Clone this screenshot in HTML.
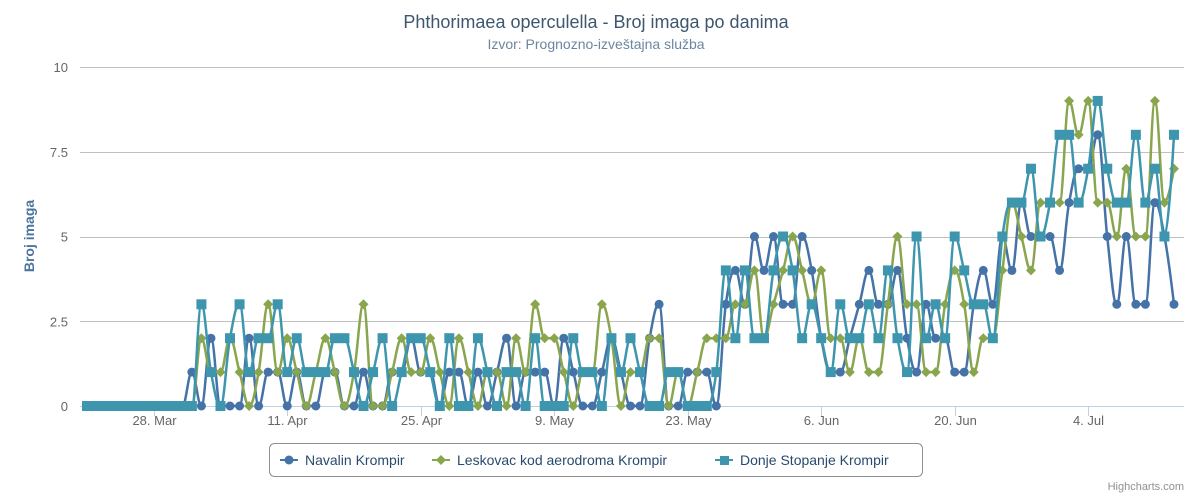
<!DOCTYPE html>
<html><head><meta charset="utf-8"><style>
body{margin:0;background:#fff;font-family:"Liberation Sans",sans-serif}
svg text{font-family:"Liberation Sans","DejaVu Sans",sans-serif}
</style></head><body>
<svg id="chart" width="1192" height="495" viewBox="0 0 1192 495" xmlns="http://www.w3.org/2000/svg">
<rect width="1192" height="495" fill="#fff"/>
<text x="596" y="28" text-anchor="middle" font-size="18" fill="#3E576F">Phthorimaea operculella - Broj imaga po danima</text>
<text x="596" y="49" text-anchor="middle" font-size="14" fill="#6D869F">Izvor: Prognozno-izveštajna služba</text>
<g id="grid"></g>
<g id="axes"></g>
<text transform="translate(34,236) rotate(-90)" text-anchor="middle" font-size="14" font-weight="bold" fill="#4d759e">Broj imaga</text>
<g id="series"></g>
<g>
<rect x="269.5" y="443.5" width="653" height="33" rx="5" fill="#fff" stroke="#909090"/>
<g>
<line x1="280" y1="460" x2="298" y2="460" stroke="#4572A7" stroke-width="2"/><circle cx="289" cy="460" r="4.5" fill="#4572A7"/>
<text x="305" y="465" font-size="14" fill="#274b6d">Navalin Krompir</text></g>
<g>
<line x1="432" y1="460" x2="450" y2="460" stroke="#89A54E" stroke-width="2"/><path d="M441 455 L446 460 L441 465 L436 460Z" fill="#89A54E"/>
<text x="457" y="465" font-size="14" fill="#274b6d">Leskovac kod aerodroma Krompir</text></g>
<g>
<line x1="715" y1="460" x2="733" y2="460" stroke="#3D96AE" stroke-width="2"/><rect x="720" y="456" width="9" height="9" fill="#3D96AE"/>
<text x="740" y="465" font-size="14" fill="#274b6d">Donje Stopanje Krompir</text></g>
</g>
<text x="1184" y="490" text-anchor="end" font-size="11" fill="#909090">Highcharts.com</text>
</svg>
<script>
const navalin=[0,0,0,0,0,0,0,0,0,0,0,1,0,2,0,0,0,2,0,1,1,0,1,0,0,1,1,0,0,1,0,0,1,1,2,1,1,0,1,1,0,1,0,1,2,0,1,1,1,0,2,1,0,0,1,2,1,0,0,2,3,0,0,1,1,1,0,3,4,3,5,4,5,3,3,5,4,2,1,1,2,3,4,3,3,4,2,1,3,2,2,1,1,3,4,3,5,4,6,5,5,5,4,6,7,7,8,5,3,5,3,3,6,5,3];
const leskovac=[0,0,0,0,0,0,0,0,0,0,0,0,2,1,1,2,1,0,1,3,1,2,1,0,1,2,1,0,1,3,0,0,1,2,1,1,2,1,0,2,1,0,1,1,0,2,1,3,2,2,1,0,1,1,3,2,0,1,1,2,2,0,1,0,1,2,2,2,3,3,4,2,3,4,5,4,3,4,2,2,1,2,1,1,3,5,3,3,1,1,3,4,3,1,2,2,4,6,5,4,6,6,6,9,8,9,6,6,5,7,5,5,9,6,7];
const donje=[0,0,0,0,0,0,0,0,0,0,0,0,3,1,0,2,3,1,2,2,3,1,2,1,1,1,2,2,1,0,1,2,0,1,2,2,1,0,2,0,0,2,1,0,1,1,0,2,0,0,0,2,1,1,0,2,1,2,1,0,0,1,1,0,0,0,1,4,2,4,2,2,4,5,4,2,3,2,1,3,2,2,3,2,4,2,1,5,2,3,2,5,4,3,3,2,5,6,6,7,5,6,8,8,6,7,9,7,6,6,8,6,7,5,8];
const yTicks=[0,2.5,5,7.5,10];
const yTickLabels=["0","2.5","5","7.5","10"];
const xTickDays=[7,21,35,49,63,77,91,105];
const xTickLabels=["28. Mar","11. Apr","25. Apr","9. May","23. May","6. Jun","20. Jun","4. Jul"];

const NS="http://www.w3.org/2000/svg";
const X0=87,DX=9.535,Y0=406,YS=33.9;
function xs(i){return X0+DX*i;}
function ys(v){return Y0-YS*v;}
function mk(tag,attrs,parent){const e=document.createElementNS(NS,tag);for(const k in attrs)e.setAttribute(k,attrs[k]);parent.appendChild(e);return e;}
const grid=document.getElementById('grid'),axes=document.getElementById('axes'),ser=document.getElementById('series');
yTicks.forEach((t,k)=>{
  const l=mk('line',{x1:80,x2:1184,y1:Math.round(ys(t))+0.5,y2:Math.round(ys(t))+0.5,stroke:'#C0C0C0','stroke-width':1},grid);
  
  
  const tx=mk('text',{x:68,y:ys(t)+5,'text-anchor':'end','font-size':13,fill:'#666'},axes);
  tx.textContent=yTickLabels[k];
  
  
});
const ax=mk('line',{x1:80,x2:1184,y1:406.5,y2:406.5,stroke:'#C0D0E0','stroke-width':1},axes);


xTickDays.forEach((d,k)=>{
  const x=Math.round(xs(d))+0.5;
  const t=mk('line',{x1:x,x2:x,y1:406,y2:416,stroke:'#C0D0E0'},axes);
  
  
  const tx=mk('text',{x:x,y:425,'text-anchor':'middle','font-size':13,fill:'#666'},axes);
  tx.textContent=xTickLabels[k];
  
  
});
function splinePath(pts){
  let d='M'+pts[0][0]+' '+pts[0][1];
  const cps=pts.map((p,i)=>{
    if(i===0||i===pts.length-1)return [p[0],p[1],p[0],p[1]];
    const [x,y]=p,[lx,ly]=pts[i-1],[nx,ny]=pts[i+1];
    let lcx=(1.5*x+lx)/2.5,lcy=(1.5*y+ly)/2.5,rcx=(1.5*x+nx)/2.5,rcy=(1.5*y+ny)/2.5;
    const c=((rcy-lcy)*(rcx-x))/(rcx-lcx)+y-rcy;lcy+=c;rcy+=c;
    if(lcy>ly&&lcy>y){lcy=Math.max(ly,y);rcy=2*y-lcy;}else if(lcy<ly&&lcy<y){lcy=Math.min(ly,y);rcy=2*y-lcy;}
    if(rcy>ny&&rcy>y){rcy=Math.max(ny,y);lcy=2*y-rcy;}else if(rcy<ny&&rcy<y){rcy=Math.min(ny,y);lcy=2*y-rcy;}
    return [lcx,lcy,rcx,rcy];
  });
  for(let i=1;i<pts.length;i++){
    d+=' C'+cps[i-1][2].toFixed(1)+' '+cps[i-1][3].toFixed(1)+' '+cps[i][0].toFixed(1)+' '+cps[i][1].toFixed(1)+' '+pts[i][0].toFixed(1)+' '+pts[i][1].toFixed(1);
  }
  return d;
}
function drawSeries(data,color,shape,name){
  const g=mk('g',{},ser);
  
  
  const pts=data.map((v,i)=>[xs(i),ys(v)]);
  const p=mk('path',{d:splinePath(pts),fill:'none',stroke:color,'stroke-width':2.5},g);
  
  
  pts.forEach(([x,y])=>{
    let m;
    if(shape==='circle')m=mk('circle',{cx:x,cy:y,r:4.5,fill:color},g);
    else if(shape==='diamond')m=mk('path',{d:`M${x} ${y-5}L${x+5} ${y}L${x} ${y+5}L${x-5} ${y}Z`,fill:color},g);
    else m=mk('rect',{x:x-5,y:y-5,width:10,height:10,fill:color},g);
    
    
  });
}
drawSeries(navalin,'#4572A7','circle','navalin');
drawSeries(leskovac,'#89A54E','diamond','leskovac');
drawSeries(donje,'#3D96AE','square','donje-stopanje');
</script>
</body></html>
